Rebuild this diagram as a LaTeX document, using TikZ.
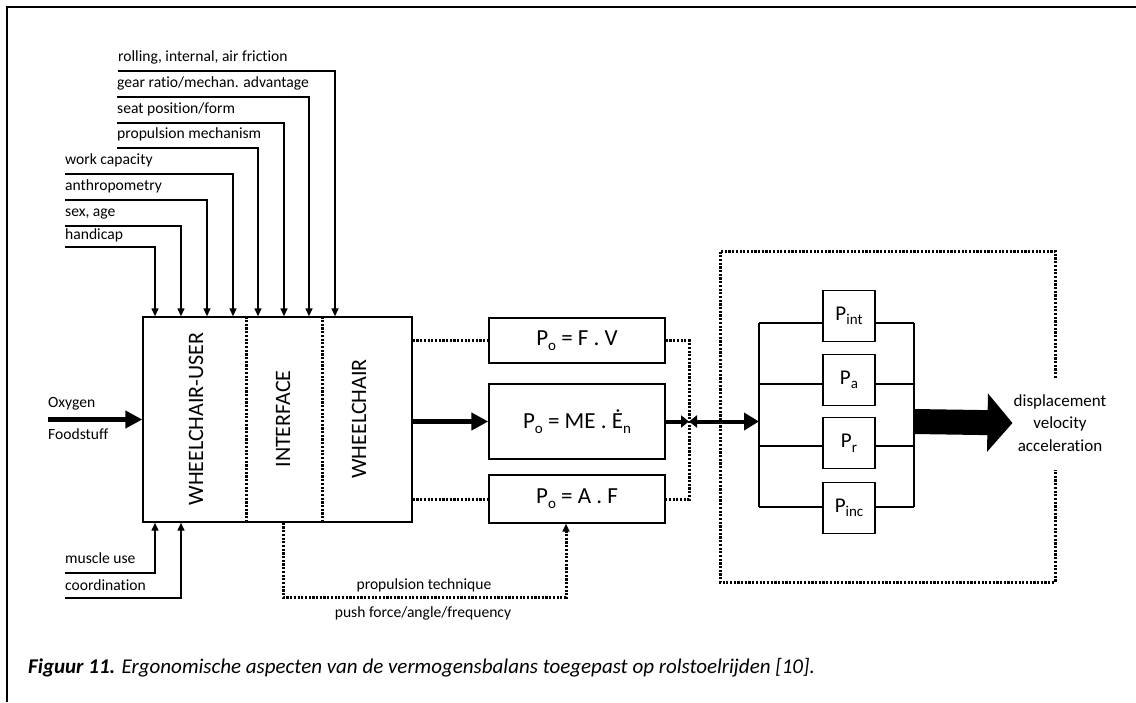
\documentclass[tikz,border=0pt]{standalone}
\usepackage{fontspec}
\setmainfont{Carlito}[Ligatures=NoCommon]
\usetikzlibrary{arrows.meta}

% lowered subscript in running text
\newcommand\lowsub[1]{\raisebox{-0.45ex}{\fontsize{15}{15}\selectfont #1}}

\tikzset{
  thinln/.style={line width=1.4pt},
  dotln/.style={line width=3pt, dash pattern=on 2.2pt off 1.5pt},
  inarrow/.style={thinln, -{Triangle[length=8pt,width=7pt]}},
  dotarrow/.style={dotln, -{Triangle[length=8pt,width=7pt]}},
  fatarrow/.style={line width=5pt, -{Triangle[length=17pt,width=17pt]}},
  lbl/.style={font=\fontsize{15.6}{18}\selectfont, inner sep=0pt, anchor=base west},
  sbox/.style={draw, thinln, inner sep=0pt, font=\fontsize{23}{26}\selectfont},
  pbox/.style={draw, thinln, inner sep=0pt, font=\fontsize{21}{24}\selectfont},
  vlabel/.style={rotate=90, font=\fontsize{22}{24}\selectfont, inner sep=0pt},
}

\begin{document}
\begin{tikzpicture}[x=1pt,y=-1pt]
\useasboundingbox (0,0) rectangle (1136,702);

% page frame
\draw[line width=2pt] (1136,7) -- (7,7) -- (7,702);

% central system block
\node[draw, thinln, minimum width=269pt, minimum height=205pt, inner sep=0pt] (sys) at (277.5,419.5) {};
\draw[dotln] (246,0 |- sys.north) -- (246,0 |- sys.south);
\draw[dotln] (322,0 |- sys.north) -- (322,0 |- sys.south);
\node[vlabel] (usr) at (196,419) {WHEELCHAIR-USER};
\node[vlabel] (ifc) at (283,419) {INTERFACE};
\node[vlabel] (whc) at (359,419) {WHEELCHAIR};

% factors entering from above
\node[lbl] (in1) at (118,61)  {rolling, internal, air friction};
\node[lbl] (in2) at (117,87)  {gear ratio/mechan. advantage};
\node[lbl] (in3) at (117,113) {seat position/form};
\node[lbl] (in4) at (117,138) {propulsion mechanism};
\node[lbl] (in5) at (65,164)  {work capacity};
\node[lbl] (in6) at (65,190)  {anthropometry};
\node[lbl] (in7) at (65,216)  {sex, age};
\node[lbl] (in8) at (65,239)  {handicap};
\draw[inarrow] (in1.west |- 0,71)  -| (335,0 |- sys.north);
\draw[inarrow] (in2.west |- 0,97)  -| (309,0 |- sys.north);
\draw[inarrow] (in3.west |- 0,123) -| (284,0 |- sys.north);
\draw[inarrow] (in4.west |- 0,148) -| (258,0 |- sys.north);
\draw[inarrow] (in5.west |- 0,174) -| (233,0 |- sys.north);
\draw[inarrow] (in6.west |- 0,200) -| (207,0 |- sys.north);
\draw[inarrow] (in7.west |- 0,226) -| (181,0 |- sys.north);
\draw[inarrow] (in8.west |- 0,247) -| (155,0 |- sys.north);

% factors entering from below
\node[lbl] (mus) at (65,563) {muscle use};
\node[lbl] (coo) at (65,590) {coordination};
\draw[inarrow] (mus.west |- 0,573) -| (155,0 |- sys.south);
\draw[inarrow] (coo.west |- 0,598) -| (181,0 |- sys.south);

% energy input
\node[lbl] (oxy)  at (48,407) {Oxygen};
\node[lbl] (food) at (48,439) {Foodstuff};
\draw[fatarrow] (oxy.west |- sys.west) -- (sys.west);

% power output relations
\node[sbox, minimum width=176pt, minimum height=45pt] (fv) at (577,340.5) {P\lowsub{o} = F . V};
\node[sbox, minimum width=176pt, minimum height=75pt] (me) at (577,421.5) {P\lowsub{o} = ME . Ė\lowsub{n}};
\node[sbox, minimum width=176pt, minimum height=48pt] (af) at (577,499) {P\lowsub{o} = A . F};

\draw[dotln] (fv.west -| sys.east) -- (fv.west);
\draw[dotln] (af.west -| sys.east) -- (af.west);
\draw[fatarrow] (me.west -| sys.east) -- (me.west);

\coordinate (jn) at (689,421.5);
\coordinate (netL) at (759,421.5);
\coordinate (netR) at (914,421.5);
\draw[dotln] (fv.east) -| (jn) |- (af.east);
\draw[line width=4pt, -{Triangle[length=8pt,width=12pt]}] (me.east) -- (jn);
\draw[line width=4pt, {Triangle[length=8pt,width=12pt]}-{Triangle[length=15pt,width=17pt]}] (jn) -- (netL);

% propulsion technique feedback
\node[font=\fontsize{15.6}{18}\selectfont, inner sep=0pt] (ptq) at (424,585) {propulsion technique};
\node[font=\fontsize{15.6}{18}\selectfont, inner sep=0pt] (pfq) at (423,613) {push force/angle/frequency};
\coordinate (pk) at (566,597);
\draw[dotarrow] (ifc |- sys.south) |- (pk) -- (af.south -| pk);

% environment block
\draw[dotln] (1055,378) -- (1055,251) -- (720,251) -- (720,582) -- (1055,582) -- (1055,470);

% parallel power losses
\node[pbox, minimum width=52pt, minimum height=51pt] (pint) at (849,316) {P\lowsub{int}};
\node[pbox, minimum width=52pt, minimum height=51pt] (pa)   at (849,380) {P\lowsub{a}};
\node[pbox, minimum width=52pt, minimum height=51pt] (pr)   at (849,443) {P\lowsub{r}};
\node[pbox, minimum width=52pt, minimum height=51pt] (pinc) at (849,508) {P\lowsub{inc}};
\coordinate (l1) at (759,323); \coordinate (r1) at (914,323);
\coordinate (l2) at (759,384); \coordinate (r2) at (914,384);
\coordinate (l3) at (759,446); \coordinate (r3) at (914,446);
\coordinate (l4) at (759,507); \coordinate (r4) at (914,507);
\draw[thinln] (l1) -- (l4);
\draw[thinln] (r1) -- (r4);
\draw[thinln] (l1) -- (l1 -| pint.west) (pint.east |- r1) -- (r1);
\draw[thinln] (l2) -- (l2 -| pa.west)   (pa.east |- r2)   -- (r2);
\draw[thinln] (l3) -- (l3 -| pr.west)   (pr.east |- r3)   -- (r3);
\draw[thinln] (l4) -- (l4 -| pinc.west) (pinc.east |- r4) -- (r4);

% resulting motion
\node[align=center, font=\fontsize{17}{22.5}\selectfont, inner sep=1pt] (disp) at (1060,423) {displacement\\velocity\\acceleration};
\draw[line width=25pt, -{Triangle[length=25pt,width=57pt]}] (netR) -- (disp.west);

% caption
\node[anchor=base west, inner sep=0pt, font=\fontsize{21}{25}\selectfont] (cap) at (28,673)
  {\textbf{\textit{Figuur 11.}} \textit{Ergonomische aspecten van de vermogensbalans toegepast op rolstoelrijden [10].}};
\end{tikzpicture}
\end{document}
